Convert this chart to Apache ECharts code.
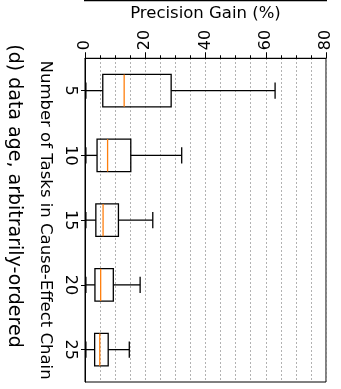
<!DOCTYPE html>
<html>
<head>
<meta charset="utf-8">
<script src="https://cdn.jsdelivr.net/npm/echarts@6/dist/echarts.min.js"></script>
<style>
html,body{margin:0;padding:0;background:#fff;}
#chart{width:341px;height:389px;}
</style>
</head>
<body>
<div id="chart"></div>
<script>
// Data
var categories = ['5', '10', '15', '20', '25'];
var whiskerLow = [0.3, 0.3, 0.3, 0.3, 0.3];
var q1 = [5.9, 4.0, 3.6, 3.3, 3.2];
var median = [13.0, 7.5, 6.0, 5.2, 4.9];
var q3 = [28.6, 15.2, 11.1, 9.4, 7.7];
var whiskerHigh = [63.1, 32.1, 22.5, 18.3, 14.7];
var valueTicks = [0, 20, 40, 60, 80];

var titleText = '(d) data age, arbitrarily-ordered';
var valueAxisName = 'Precision Gain (%)';
var catAxisName = 'Number of Tasks in Cause-Effect Chain';

var boxData = categories.map(function (c, i) {
  return [i, whiskerLow[i], q1[i], median[i], q3[i], whiskerHigh[i]];
});

var FONT = 'DejaVu Sans';
var chart = echarts.init(document.getElementById('chart'), null, {renderer: 'canvas'});

var option = {
  animation: false,
  backgroundColor: '#fff',
  grid: {
    left: 85, right: 15, top: 56, bottom: 7,
    show: true, borderColor: '#000', borderWidth: 1, backgroundColor: 'transparent'
  },
  graphic: [
    {
      type: 'text',
      x: 14, y: 196,
      rotation: -Math.PI / 2,
      style: {
        text: titleText,
        font: '19px "DejaVu Sans"',
        fill: '#000',
        textAlign: 'center',
        textVerticalAlign: 'middle'
      }
    },
    {
      type: 'line',
      shape: {x1: 84, y1: 0.5, x2: 327, y2: 0.5},
      style: {stroke: '#000', lineWidth: 1.3}
    }
  ],
  xAxis: {
    type: 'value',
    position: 'top',
    min: valueTicks[0],
    max: valueTicks[valueTicks.length - 1],
    interval: valueTicks[1] - valueTicks[0],
    name: valueAxisName,
    nameLocation: 'middle',
    nameGap: 33,
    nameTextStyle: {fontFamily: FONT, fontSize: 16.5, color: '#000'},
    axisLine: {show: true, lineStyle: {color: '#000', width: 1}},
    axisTick: {show: true, length: 6, lineStyle: {color: '#000', width: 1}},
    minorTick: {show: true, splitNumber: 4, length: 3, lineStyle: {color: '#000', width: 1}},
    axisLabel: {
      rotate: -90, margin: 8,
      fontFamily: FONT, fontSize: 16, color: '#000'
    },
    splitLine: {show: true, lineStyle: {color: '#999999', width: 1, type: [1.5, 2.5]}},
    minorSplitLine: {show: true, lineStyle: {color: '#999999', width: 1, type: [1.5, 2.5]}}
  },
  yAxis: {
    type: 'category',
    data: categories,
    inverse: true,
    name: catAxisName,
    nameLocation: 'middle',
    nameRotate: -90,
    nameGap: 16,
    nameTextStyle: {fontFamily: FONT, fontSize: 16.5, color: '#000'},
    axisLine: {show: true, lineStyle: {color: '#000', width: 1}},
    axisTick: {show: true, alignWithLabel: true, length: 4, lineStyle: {color: '#000', width: 1}},
    axisLabel: {
      rotate: -90, margin: 7,
      fontFamily: FONT, fontSize: 16, color: '#000'
    },
    splitLine: {show: false}
  },
  series: [{
    type: 'custom',
    data: boxData,
    encode: {x: [1, 2, 3, 4, 5], y: 0},
    renderItem: function (params, api) {
      var cat = api.value(0);
      var pLo = api.coord([api.value(1), cat]);
      var pQ1 = api.coord([api.value(2), cat]);
      var pMed = api.coord([api.value(3), cat]);
      var pQ3 = api.coord([api.value(4), cat]);
      var pHi = api.coord([api.value(5), cat]);
      var band = api.size([0, 1])[1];
      var hb = band * 0.25;
      var hc = band * 0.125;
      var y = pLo[1];
      var ls = {stroke: '#000', lineWidth: 1.3, fill: null};
      return {
        type: 'group',
        children: [
          {type: 'line', shape: {x1: pLo[0], y1: y, x2: pQ1[0], y2: y}, style: ls},
          {type: 'line', shape: {x1: pQ3[0], y1: y, x2: pHi[0], y2: y}, style: ls},
          {type: 'line', shape: {x1: pLo[0], y1: y - hc, x2: pLo[0], y2: y + hc}, style: ls},
          {type: 'line', shape: {x1: pHi[0], y1: y - hc, x2: pHi[0], y2: y + hc}, style: ls},
          {type: 'rect', shape: {x: pQ1[0], y: y - hb, width: pQ3[0] - pQ1[0], height: 2 * hb}, style: {stroke: '#000', lineWidth: 1.3, fill: 'rgba(255,255,255,0)'}},
          {type: 'line', shape: {x1: pMed[0], y1: y - hb, x2: pMed[0], y2: y + hb}, style: {stroke: '#ff7f0e', lineWidth: 1.3}}
        ]
      };
    }
  }]
};
chart.setOption(option);
</script>
</body>
</html>
